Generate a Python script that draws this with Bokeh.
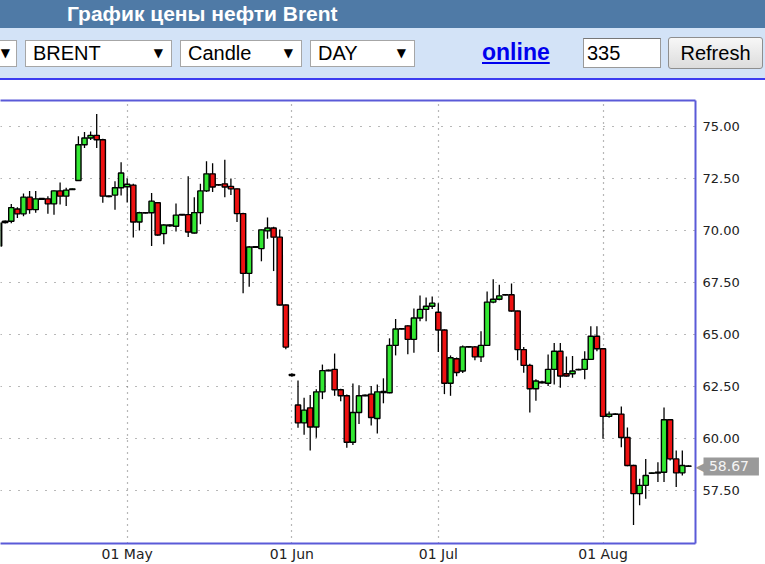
import pandas as pd
from bokeh.plotting import figure
from bokeh.models import (ColumnDataSource, Range1d, FixedTicker, PrintfTickFormatter,
                          LinearAxis, Label, Div)
from bokeh.layouts import column
from bokeh.embed import file_html
from bokeh.resources import INLINE

# ---------------- data ----------------
title = "График цены нефти Brent"
symbol = "BRENT"
chart_type = "Candle"
period = "DAY"
link_text = "online"
bars_count = "335"
button_text = "Refresh"

first_day = "2019-04-05"
last_day = "2019-08-18"
closed_days = ["2019-04-19", "2019-06-30"]   # no candle on these days (Saturdays never have one)

opens = [69.25, 70.38, 70.44, 71.03, 70.80, 71.60, 71.00, 71.50, 71.52, 71.28,
         71.90, 71.65, 71.96, 72.40, 74.12, 74.44, 74.57, 74.36, 71.63, 71.70,
         72.05, 72.10, 72.18, 70.41, 70.84, 70.85, 71.33, 69.85, 70.23, 70.20,
         70.74, 70.76, 69.88, 70.86, 71.90, 72.72, 72.18, 72.24, 72.12, 72.00,
         70.81, 67.94, 69.19, 69.13, 69.98, 70.12, 69.68, 66.42, 63.08, 61.62,
         60.76, 61.48, 60.56, 62.25, 63.26, 63.33, 62.35, 62.06, 59.83, 61.26,
         62.06, 62.14, 60.97, 62.22, 62.21, 64.48, 65.26, 65.42, 64.77, 65.80,
         66.21, 66.36, 66.07, 65.22, 62.66, 63.84, 63.25, 64.40, 64.41, 63.93,
         64.48, 66.56, 66.70, 66.90, 66.91, 66.13, 64.28, 63.52, 62.40, 62.68,
         62.66, 63.33, 64.20, 63.12, 63.12, 63.31, 63.33, 63.81, 64.92, 64.32,
         61.07, 61.17, 61.18, 60.06, 58.71, 57.36, 57.76, 58.34, 58.35, 58.39,
         60.91, 59.03, 58.36, 58.69]
highs = [70.45, 70.48, 71.27, 71.12, 71.78, 71.90, 71.90, 71.56, 71.65, 71.92,
         72.30, 72.05, 72.02, 74.52, 74.73, 74.76, 75.59, 74.40, 71.68, 72.37,
         73.28, 72.50, 72.24, 70.90, 70.88, 71.80, 71.36, 70.30, 70.30, 71.29,
         70.79, 72.60, 71.60, 72.25, 73.33, 73.23, 72.22, 73.40, 72.50, 72.02,
         70.85, 69.25, 69.24, 70.05, 70.62, 70.18, 70.05, 66.45, 63.14, 62.80,
         61.97, 62.10, 62.37, 63.56, 63.32, 64.09, 62.40, 62.12, 62.65, 62.57,
         62.12, 62.53, 62.60, 62.90, 64.82, 65.75, 65.30, 65.45, 66.25, 66.88,
         66.78, 66.83, 66.51, 65.25, 64.00, 63.90, 64.48, 64.45, 64.45, 65.16,
         67.07, 67.66, 67.39, 66.95, 67.45, 66.15, 64.40, 63.60, 62.85, 62.78,
         64.04, 64.60, 64.60, 63.95, 63.97, 63.36, 64.20, 65.40, 65.40, 64.35,
         61.30, 61.22, 61.55, 60.54, 58.75, 58.08, 59.03, 58.38, 58.87, 61.50,
         60.95, 59.43, 59.43, 58.72]
lows = [69.10, 70.34, 70.35, 70.60, 70.68, 70.80, 70.85, 71.48, 70.80, 70.75,
        71.25, 71.17, 71.94, 72.38, 73.96, 74.35, 73.96, 71.33, 71.60, 71.00,
        71.68, 71.35, 69.66, 70.00, 70.82, 69.26, 69.75, 69.34, 70.18, 69.95,
        70.72, 69.69, 69.86, 70.30, 71.85, 71.85, 72.15, 71.60, 71.70, 70.41,
        66.98, 67.30, 69.17, 68.52, 69.60, 68.05, 66.40, 64.30, 62.98, 60.53,
        60.19, 59.43, 60.05, 61.90, 63.24, 62.06, 61.80, 59.56, 59.70, 60.70,
        62.04, 60.63, 60.25, 61.70, 62.18, 64.00, 65.24, 64.05, 64.13, 65.64,
        65.64, 66.23, 64.16, 62.14, 62.06, 63.00, 63.15, 64.38, 63.77, 63.68,
        64.45, 66.50, 66.65, 66.88, 66.10, 63.77, 63.17, 61.26, 61.82, 62.65,
        62.53, 62.60, 62.45, 62.98, 62.93, 63.29, 62.85, 63.80, 64.20, 60.00,
        61.00, 61.15, 59.59, 58.68, 55.85, 56.80, 57.12, 58.32, 57.92, 57.92,
        58.95, 57.68, 58.23, 58.65]
closes = [70.36, 70.44, 71.10, 70.80, 71.60, 71.00, 71.52, 71.54, 71.28, 71.90,
          71.65, 71.94, 72.00, 74.12, 74.44, 74.57, 74.36, 71.65, 71.66, 72.05,
          72.76, 72.22, 70.41, 70.85, 70.86, 71.41, 69.78, 70.26, 70.27, 70.74,
          70.77, 69.93, 70.86, 71.90, 72.72, 72.09, 72.20, 72.09, 72.00, 70.81,
          67.94, 69.21, 69.22, 70.03, 70.12, 69.68, 66.42, 64.40, 63.03, 60.76,
          61.37, 60.56, 62.25, 63.27, 63.29, 62.35, 62.06, 59.83, 61.26, 62.06,
          62.09, 61.02, 62.25, 62.27, 64.48, 65.27, 65.28, 64.77, 65.80, 66.21,
          66.36, 66.51, 65.22, 62.66, 63.89, 63.18, 64.41, 64.42, 63.93, 64.48,
          66.56, 66.70, 66.86, 66.92, 66.13, 64.28, 63.52, 62.40, 62.77, 62.72,
          63.33, 64.20, 63.01, 63.01, 63.25, 63.33, 63.81, 64.92, 64.32, 61.07,
          61.18, 61.19, 60.06, 58.71, 57.36, 57.76, 58.23, 58.36, 58.39, 60.91,
          59.03, 58.36, 58.71, 58.67]

month_starts = ["2019-05-01", "2019-06-01", "2019-07-01", "2019-08-01"]
month_labels = ["01 May", "01 Jun", "01 Jul", "01 Aug"]
y_ticks = [57.5, 60.0, 62.5, 65.0, 67.5, 70.0, 72.5, 75.0]
last_price = 58.67

# ---------------- build ----------------
days = pd.date_range(first_day, last_day, freq="D")
days = days[(days.dayofweek != 5) & ~days.isin(pd.to_datetime(closed_days))]
assert len(days) == len(opens) == len(highs) == len(lows) == len(closes)

idx = list(range(len(days)))
bull = "#33e833"
bear = "#ee1111"
src = ColumnDataSource(dict(
    x=idx,
    high=highs,
    low=lows,
    top=[max(o, c) for o, c in zip(opens, closes)],
    bottom=[min(o, c) for o, c in zip(opens, closes)],
    color=[bull if c >= o else bear for o, c in zip(opens, closes)],
))

month_idx = [int((days >= pd.Timestamp(m)).argmax()) for m in month_starts]

X0, X1 = 0.23, 114.16
frame_col = "#5a5ad8"
p = figure(width=765, height=484, output_backend="svg", toolbar_location=None,
           x_range=Range1d(X0, X1), y_range=Range1d(54.966, 76.243),
           y_axis_location="right",
           min_border_left=0, min_border_right=70, min_border_top=20, min_border_bottom=19,
           outline_line_color=None, background_fill_color="white", border_fill_color="white")

p.segment(x0="x", y0="high", x1="x", y1="low", source=src, line_color="black", line_width=1.3)
p.vbar(x="x", width=0.86, top="top", bottom="bottom", source=src,
       fill_color="color", line_color="black", line_width=1.4)

# right axis (prices)
ya = p.yaxis[0]
ya.ticker = FixedTicker(ticks=y_ticks)
ya.formatter = PrintfTickFormatter(format="%.2f")
ya.major_tick_out = 0
ya.major_tick_in = 0
ya.minor_tick_out = 0
ya.minor_tick_in = 0
ya.axis_line_color = frame_col
ya.axis_line_width = 2
ya.major_label_standoff = 7
ya.major_label_text_font = "DejaVu Sans"
ya.major_label_text_font_size = "13px"
ya.major_label_text_color = "#222222"

# bottom axis (dates)
xa = p.xaxis[0]
xa.ticker = FixedTicker(ticks=month_idx)
xa.major_label_overrides = {i: lab for i, lab in zip(month_idx, month_labels)}
xa.major_tick_out = 0
xa.major_tick_in = 0
xa.minor_tick_out = 0
xa.minor_tick_in = 0
xa.axis_line_color = frame_col
xa.axis_line_width = 2
xa.major_label_standoff = 2
xa.major_label_text_font = "DejaVu Sans"
xa.major_label_text_font_size = "14px"
xa.major_label_text_color = "#222222"

# top border
top_ax = LinearAxis(ticker=FixedTicker(ticks=[]), axis_line_color=frame_col, axis_line_width=2,
                    major_tick_out=0, major_tick_in=0, minor_tick_out=0, minor_tick_in=0,
                    major_label_standoff=0, major_label_text_font_size="0px")
p.add_layout(top_ax, "above")

# grids
p.ygrid.ticker = FixedTicker(ticks=y_ticks)
p.ygrid.grid_line_color = "#707070"
p.ygrid.grid_line_dash = "1 8"
p.ygrid.grid_line_width = 1.2
p.xgrid.ticker = FixedTicker(ticks=month_idx)
p.xgrid.grid_line_color = "#707070"
p.xgrid.grid_line_dash = "1 5"
p.xgrid.grid_line_width = 1.2

# last price marker: placed in side panels so that it is not clipped to the frame;
# horizontal position in canvas pixels, vertical position through the price scale
p.add_layout(Label(x=695, x_units="canvas", y=last_price, text="\u25c0",
                   text_baseline="middle", text_align="left", text_font="DejaVu Sans",
                   text_font_size="16px", text_color="#9a9a9a"), "right")
p.add_layout(Label(x=703, x_units="canvas", y=last_price,
                   text="\u00a0" + f"{last_price:.2f}" + "\u00a0" * 2,
                   text_baseline="middle", text_align="left", text_font="DejaVu Sans",
                   text_font_size="14px", text_color="#f4f4f4",
                   background_fill_color="#9a9a9a", padding=1), "above")

# ---------------- page header & controls ----------------
def select_box(left, width, text, arrow_right=8):
    return (f'<div style="position:absolute;left:{left}px;top:40px;width:{width}px;height:27px;'
            f'box-sizing:border-box;background:#ffffff;border:1px solid #a6a6a6;">'
            f'<span style="position:absolute;left:7px;top:0;line-height:25px;font-size:20px;color:#000;'
            f'white-space:nowrap;">{text}</span>'
            f'<span style="position:absolute;right:{arrow_right}px;top:0;line-height:25px;font-size:12px;'
            f'color:#000;font-family:\'DejaVu Sans\',sans-serif;">\u25bc</span></div>')

html = (
    '<div style="position:relative;width:765px;height:80px;overflow:hidden;'
    'font-family:\'Liberation Sans\',Arial,sans-serif;background:#ffffff;">'
    '<div style="position:absolute;left:0;top:0;width:765px;height:28px;background:#4f7aa6;"></div>'
    f'<div style="position:absolute;left:67px;top:0;height:28px;line-height:27px;font-size:21px;'
    f'font-weight:bold;color:#ffffff;white-space:nowrap;">{title}</div>'
    '<div style="position:absolute;left:0;top:28px;width:765px;height:50px;background:#d3e3f7;"></div>'
    '<div style="position:absolute;left:0;top:78px;width:765px;height:2px;background:#3c3cf0;"></div>'
    + select_box(-100, 117, "", arrow_right=6)
    + select_box(25, 147, symbol)
    + select_box(180, 122, chart_type)
    + select_box(310, 105, period)
    + f'<span style="position:absolute;left:482px;top:41px;line-height:23px;font-size:23px;font-weight:bold;'
      f'color:#0000ee;text-decoration:underline;white-space:nowrap;">{link_text}</span>'
    + f'<div style="position:absolute;left:583px;top:38px;width:78px;height:30px;box-sizing:border-box;'
      f'background:#ffffff;border:1px solid #999999;border-top-color:#777777;">'
      f'<span style="position:absolute;left:3px;top:0;line-height:28px;font-size:20px;color:#000;">{bars_count}</span></div>'
    + f'<div style="position:absolute;left:668px;top:37px;width:95px;height:32px;box-sizing:border-box;'
      f'background:linear-gradient(#f7f7f7,#dcdcdc);border:1px solid #8e8e8e;border-radius:3px;'
      f'text-align:center;line-height:30px;font-size:20px;color:#000;">{button_text}</div>'
    '</div>'
)
header = Div(text=html, width=765, height=80, margin=0)

layout = column(header, p, spacing=0)
open("out.html", "w").write(file_html(layout, INLINE))
